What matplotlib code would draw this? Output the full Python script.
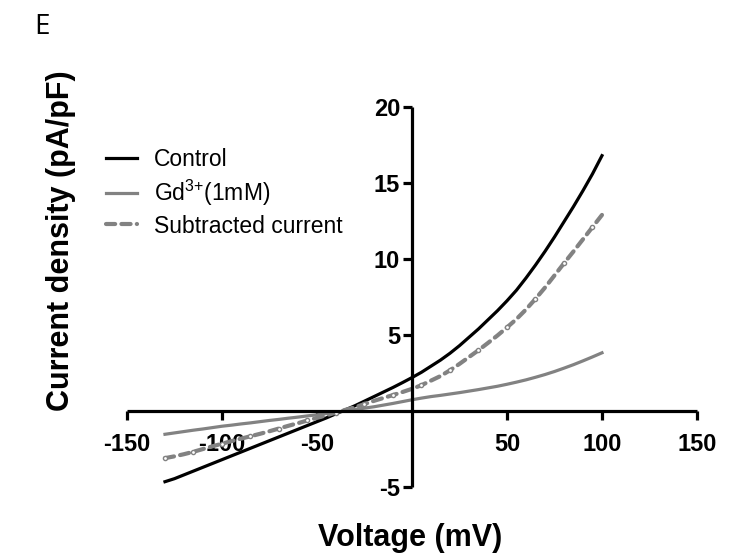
import numpy as np
import matplotlib
matplotlib.use("Agg")
import matplotlib.pyplot as plt

plt.rcParams['font.family'] = ['Liberation Sans', 'DejaVu Sans']
plt.rcParams['mathtext.fontset'] = 'custom'
plt.rcParams['mathtext.rm'] = 'Liberation Sans'
plt.rcParams['mathtext.default'] = 'regular'

# voltage steps (mV)
voltage = [-130, -125, -120, -115, -110, -105, -100, -95, -90, -85, -80, -75,
           -70, -65, -60, -55, -50, -45, -40, -35, -30, -25, -20, -15,
           -10, -5, 0, 5, 10, 15, 20, 25, 30, 35, 40, 45,
           50, 55, 60, 65, 70, 75, 80, 85, 90, 95, 100]

# current density (pA/pF)
control = [-4.65, -4.45, -4.2, -3.95, -3.7, -3.45, -3.2, -2.95, -2.7, -2.45, -2.2, -1.95,
           -1.7, -1.45, -1.2, -0.95, -0.7, -0.45, -0.18, 0.08, 0.35, 0.65, 0.95, 1.25,
           1.55, 1.87, 2.2, 2.55, 2.95, 3.35, 3.8, 4.3, 4.85, 5.4, 6.0, 6.6,
           7.25, 7.95, 8.75, 9.6, 10.5, 11.45, 12.45, 13.45, 14.5, 15.6, 16.8]
gd = [-1.53, -1.44, -1.35, -1.26, -1.18, -1.09, -1.0, -0.93, -0.85, -0.78, -0.7, -0.62,
      -0.55, -0.47, -0.4, -0.32, -0.25, -0.16, -0.08, 0.0, 0.1, 0.19, 0.28, 0.39,
      0.5, 0.62, 0.74, 0.85, 0.95, 1.03, 1.12, 1.21, 1.31, 1.41, 1.52, 1.63,
      1.76, 1.9, 2.05, 2.22, 2.4, 2.6, 2.82, 3.05, 3.3, 3.56, 3.83]
subtracted = [-3.1, -2.98, -2.84, -2.68, -2.5, -2.32, -2.15, -1.98, -1.82, -1.66, -1.5, -1.33,
              -1.15, -0.97, -0.8, -0.62, -0.45, -0.28, -0.1, 0.08, 0.25, 0.46, 0.67, 0.86,
              1.05, 1.25, 1.46, 1.7, 2.0, 2.3, 2.68, 3.1, 3.55, 4.0, 4.48, 4.97,
              5.5, 6.05, 6.68, 7.38, 8.12, 8.92, 9.72, 10.5, 11.3, 12.1, 12.9]

xticks = [-150, -100, -50, 50, 100, 150]
yticks = [-5, 5, 10, 15, 20]

gray = '#828282'

fig = plt.figure(figsize=(7.37, 5.58), dpi=100)
ax = fig.add_axes([0.1723, 0.1272, 0.7734, 0.681])

ax.plot(voltage, control, color='black', lw=2.3, label='Control', clip_on=False)
ax.plot(voltage, gd, color=gray, lw=2.3, label='Gd$^{3{+}}$(1mM)', clip_on=False)
ax.plot(voltage, subtracted, color=gray, lw=3, ls=(0, (2.2, 1.5)),
        dash_capstyle='round', marker='o', ms=3, mfc='white', mec=gray, mew=1,
        markevery=3, label='Subtracted current', clip_on=False)

ax.set_xlim(-150, 150)
ax.set_ylim(-5, 20)
ax.spines['left'].set_position(('data', 0))
ax.spines['bottom'].set_position(('data', 0))
ax.spines['right'].set_visible(False)
ax.spines['top'].set_visible(False)
for s in ['left', 'bottom']:
    ax.spines[s].set_linewidth(2.3)
    ax.spines[s].set_capstyle('butt')

ax.set_xticks(xticks)
ax.set_xticklabels([str(t) for t in xticks])
ax.set_yticks(yticks)
ax.set_yticklabels([str(t) for t in yticks])
ax.tick_params(axis='both', width=2.3, length=6.5, labelsize=17)
ax.tick_params(axis='x', pad=9)
ax.tick_params(axis='y', pad=2)
for lab in ax.get_xticklabels() + ax.get_yticklabels():
    lab.set_fontweight('bold')

fig.text(0.557, 0.036, 'Voltage (mV)', ha='center', va='center',
         fontsize=22, fontweight='bold')
fig.text(0.083, 0.568, 'Current density (pA/pF)', ha='center', va='center',
         rotation=90, fontsize=22, fontweight='bold')
fig.text(0.047, 0.952, 'E', ha='left', va='center', fontsize=20,
         family=['Open Sans', 'DejaVu Sans'])

leg = fig.legend(loc='upper left', bbox_to_anchor=(0.132, 0.752), frameon=False,
                 fontsize=16.5, handlelength=1.35, handletextpad=0.72,
                 labelspacing=0.3, borderaxespad=0)
for h in leg.legend_handles:
    h.set_marker('')

fig.savefig('out.png', dpi=100)
